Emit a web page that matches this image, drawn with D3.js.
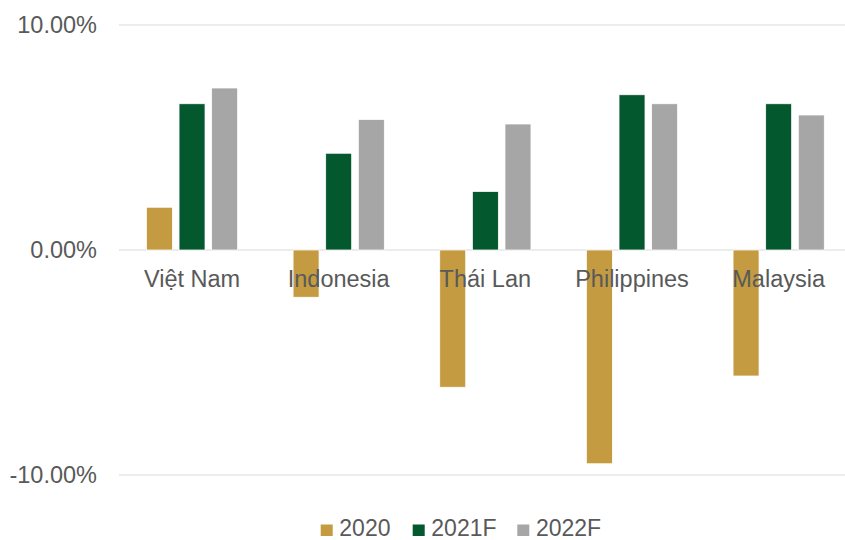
<!DOCTYPE html>
<html>
<head>
<meta charset="utf-8">
<script src="https://cdn.jsdelivr.net/npm/d3@7"></script>
<style>
  body { margin: 0; background: #fff; }
  text { font-family: "Liberation Sans", Arial, sans-serif; fill: #595959; }
</style>
</head>
<body>
<div id="chart-area"></div>
<script>
// GDP growth, 5 countries, 2020 vs forecasts
var countries = ["Việt Nam", "Indonesia", "Thái Lan", "Philippines", "Malaysia"];
var seriesNames = ["2020", "2021F", "2022F"];
var growth2020 = [1.9, -2.1, -6.1, -9.5, -5.6];
var growth2021F = [6.5, 4.3, 2.6, 6.9, 6.5];
var growth2022F = [7.2, 5.8, 5.6, 6.5, 6.0];
var yTicks = [-10, 0, 10];
var colors = ["#C49B40", "#04582E", "#A6A6A6"];

var allSeries = [growth2020, growth2021F, growth2022F];

var width = 845, height = 540;

var svg = d3.select("#chart-area")
	.append("svg")
		.attr("width", width)
		.attr("height", height);

var x0 = d3.scaleBand()
	.domain(countries)
	.range([118.7, 852])
	.paddingInner(0.378)
	.paddingOuter(0.189);

var x1 = d3.scaleBand()
	.domain(seriesNames)
	.range([0, x0.bandwidth()])
	.paddingInner(0.204);

var y = d3.scaleLinear()
	.domain([-10, 10])
	.range([475, 25]);

var color = d3.scaleOrdinal().domain(seriesNames).range(colors);

// plain hyphen for negatives, like the original
var pct = d3.formatLocale({ decimal: ".", thousands: ",", grouping: [3], currency: ["", ""], minus: "-" }).format(".2f");

// gridlines
svg.append("g")
	.selectAll("line")
	.data(yTicks)
	.enter().append("line")
		.attr("x1", 119)
		.attr("x2", 852)
		.attr("y1", function(d){ return y(d); })
		.attr("y2", function(d){ return y(d); })
		.attr("stroke", "#D9D9D9")
		.attr("stroke-width", 1.2);

// y labels
svg.append("g")
	.selectAll("text")
	.data(yTicks)
	.enter().append("text")
		.attr("x", 97)
		.attr("y", function(d){ return y(d); })
		.attr("dy", "0.35em")
		.attr("text-anchor", "end")
		.attr("font-size", "23.5px")
		.text(function(d){ return pct(d) + "%"; });

// bars
var rows = countries.map(function(c, i){
	return { country: c, values: seriesNames.map(function(s, j){ return { key: s, value: allSeries[j][i] }; }) };
});

var groups = svg.append("g")
	.selectAll("g")
	.data(rows)
	.enter().append("g")
		.attr("transform", function(d){ return "translate(" + x0(d.country) + ",0)"; });

groups.selectAll("rect")
	.data(function(d){ return d.values; })
	.enter().append("rect")
		.attr("x", function(d){ return x1(d.key); })
		.attr("width", x1.bandwidth())
		.attr("y", function(d){ return y(Math.max(0, d.value)); })
		.attr("height", function(d){ return Math.abs(y(d.value) - y(0)); })
		.attr("fill", function(d){ return color(d.key); })
		.attr("stroke", "#fff")
		.attr("stroke-width", 0.75);

// category labels (drawn over bars)
svg.append("g")
	.selectAll("text")
	.data(countries)
	.enter().append("text")
		.attr("x", function(d){ return x0(d) + x0.bandwidth() / 2; })
		.attr("y", 287)
		.attr("text-anchor", "middle")
		.attr("font-size", "23.5px")
		.text(function(d){ return d; });

// legend
var legendX = [320.7, 412.7, 517.3];
var legend = svg.append("g")
	.selectAll("g")
	.data(seriesNames)
	.enter().append("g")
		.attr("transform", function(d, i){ return "translate(" + legendX[i] + ",0)"; });

legend.append("rect")
	.attr("x", 0)
	.attr("y", 524.5)
	.attr("width", 12)
	.attr("height", 11.5)
	.attr("fill", function(d){ return color(d); });

legend.append("text")
	.attr("x", 18.6)
	.attr("y", 535.5)
	.attr("font-size", "23px")
	.text(function(d){ return d; });
</script>
</body>
</html>
